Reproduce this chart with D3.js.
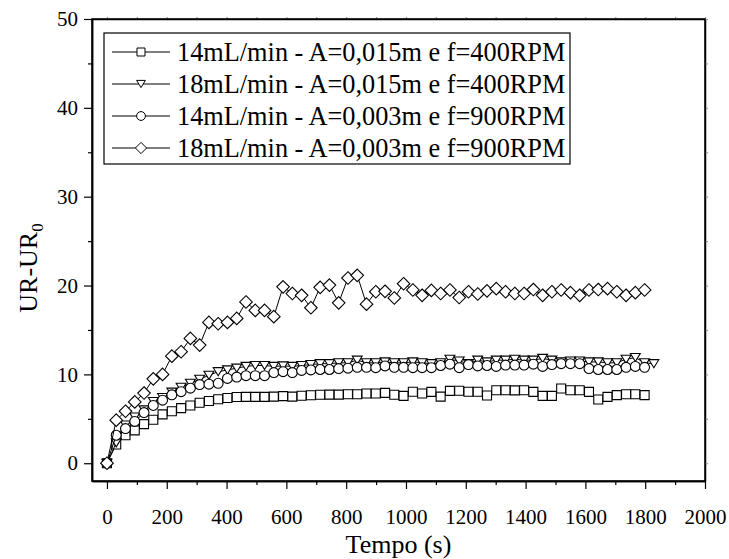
<!DOCTYPE html>
<html>
<head>
<meta charset="utf-8">
<script src="https://cdnjs.cloudflare.com/ajax/libs/d3/7.8.5/d3.min.js"></script>
<style>
  body { margin: 0; background: #fff; }
  svg text { font-family: "Liberation Serif", "Times New Roman", serif; fill: #000; }
</style>
</head>
<body>
<svg id="chart" width="729" height="559"></svg>
<script>
// time (s)
var times = [0,31,62,93,124,155,186,217,248,279,310,341,372,403,434,465,496,527,558,589,
  620,651,682,713,744,775,806,837,868,899,930,961,992,1023,1054,1085,1116,1147,1178,1209,
  1240,1271,1302,1333,1364,1395,1426,1457,1488,1519,1550,1581,1612,1643,1674,1705,1736,1767,1798,1829];

// 14mL/min - A=0,015m e f=400RPM
var sqVals = [0,2.1,3.15,3.7,4.4,4.9,5.5,5.85,6.2,6.5,6.8,7.0,7.2,7.35,7.45,7.47,7.47,7.47,7.5,7.55,
  7.5,7.6,7.65,7.7,7.72,7.72,7.77,7.77,7.85,7.85,7.92,7.7,7.58,8.05,7.85,8.03,7.5,8.14,8.15,8.05,
  8.05,7.62,8.22,8.22,8.2,8.22,8.03,7.58,7.58,8.41,8.22,8.22,8.03,7.17,7.47,7.66,7.77,7.77,7.66];

// 18mL/min - A=0,015m e f=400RPM
var triVals = [0,2.3,4.3,5.2,6.0,6.95,7.4,8.0,8.55,9.0,9.45,9.9,10.3,10.5,10.7,10.9,11.0,11.0,10.9,10.95,
  10.9,11.0,11.1,11.2,11.2,11.3,11.3,11.6,11.3,11.3,11.4,11.3,11.3,11.4,11.3,11.2,11.3,11.7,11.5,11.2,
  11.6,11.4,11.6,11.6,11.7,11.6,11.6,11.8,11.6,11.4,11.5,11.5,11.4,11.4,11.3,11.3,11.7,11.9,11.3,11.2];

// 14mL/min - A=0,003m e f=900RPM
var circVals = [0,3.15,3.9,4.7,5.7,6.5,7.1,7.7,8.05,8.45,8.85,8.9,9.0,9.55,9.7,9.85,9.85,9.85,10.2,10.3,
  10.2,10.45,10.5,10.55,10.55,10.65,10.7,10.8,10.8,10.75,10.95,10.8,10.8,10.75,10.75,10.75,11.0,11.15,10.75,11.1,
  10.95,11.0,10.9,11.05,11.05,11.05,11.15,10.9,11.1,11.2,11.2,11.2,10.65,10.55,10.55,10.55,10.8,10.9,10.8];

// 18mL/min - A=0,003m e f=900RPM
var diaVals = [0,4.85,5.85,6.9,7.9,9.5,10.0,12.05,12.55,14.05,13.3,15.85,15.7,15.85,16.3,18.15,17.2,17.2,16.5,19.85,
  19.1,18.9,17.5,19.8,20.05,18.05,20.85,21.15,17.9,19.3,19.35,18.6,20.2,19.5,18.9,19.45,19.1,19.5,18.65,19.3,
  19.05,19.4,19.65,19.3,19.1,19.1,19.55,18.9,19.3,19.5,19.2,18.9,19.5,19.55,19.65,19.3,18.9,19.2,19.5];

var seriesNames = ["14mL/min - A=0,015m e f=400RPM", "18mL/min - A=0,015m e f=400RPM",
                   "14mL/min - A=0,003m e f=900RPM", "18mL/min - A=0,003m e f=900RPM"];
var shapes = ["square", "triangle", "circle", "diamond"];
var xMajor = [0,200,400,600,800,1000,1200,1400,1600,1800,2000];
var xMinor = [100,300,500,700,900,1100,1300,1500,1700,1900];
var yMajor = [0,10,20,30,40,50];
var yMinor = [5,15,25,35,45];

(function(){

var series = [sqVals, triVals, circVals, diaVals].map(function(vals, k){
  return { name: seriesNames[k], shape: shapes[k],
           pts: vals.map(function(v, i){ return [times[i], v]; }) };
});

var svg = d3.select('#chart');
var pl = 92, pr = 705, pt = 19, pb = 481;

var x = d3.scaleLinear().domain([-50, 2000]).range([pl, pr]);
var y = d3.scaleLinear().domain([-2, 50]).range([pb, pt]);

// marker paths
function markerPath(shape, s){
  if (shape === 'square') return 'M' + (-s/2) + ',' + (-s/2) + 'h' + s + 'v' + s + 'h' + (-s) + 'Z';
  if (shape === 'triangle') return 'M' + (-s*0.55) + ',' + (-s*0.45) + 'L' + (s*0.55) + ',' + (-s*0.45) + 'L0,' + (s*0.45) + 'Z';
  if (shape === 'diamond') return 'M0,' + (-s*0.7) + 'L' + (s*0.7) + ',0L0,' + (s*0.7) + 'L' + (-s*0.7) + ',0Z';
  return null;
}
var mSize = 9;

function drawMarker(g, shape, s){
  if (shape === 'circle') {
    g.append('circle').attr('r', s*0.55);
  } else {
    g.append('path').attr('d', markerPath(shape, s));
  }
}

// axes
svg.append('g').attr('transform', 'translate(0,' + pb + ')')
  .call(d3.axisBottom(x).tickValues(xMajor).tickFormat(d3.format('d')).tickSize(8).tickPadding(20).tickSizeOuter(0));
svg.append('g').attr('transform', 'translate(0,' + pb + ')')
  .call(d3.axisBottom(x).tickValues(xMinor).tickSize(4).tickFormat('').tickSizeOuter(0));
svg.append('g').attr('transform', 'translate(' + pl + ',0)')
  .call(d3.axisLeft(y).tickValues(yMajor).tickFormat(d3.format('d')).tickSize(8).tickPadding(6).tickSizeOuter(0));
svg.append('g').attr('transform', 'translate(' + pl + ',0)')
  .call(d3.axisLeft(y).tickValues(yMinor).tickSize(4).tickFormat('').tickSizeOuter(0));
// top & right
svg.append('g').attr('transform', 'translate(0,' + pt + ')')
  .call(d3.axisTop(x).tickValues(xMajor.concat(xMinor)).tickSize(2).tickFormat('').tickSizeOuter(0))
  .selectAll('line').attr('stroke', '#999');
svg.append('g').attr('transform', 'translate(' + pr + ',0)')
  .call(d3.axisRight(y).tickValues(yMajor.concat(yMinor)).tickSize(3).tickFormat('').tickSizeOuter(0))
  .selectAll('line').attr('stroke', '#999');

svg.selectAll('.domain').attr('stroke', '#000').attr('stroke-width', 1.5);
svg.selectAll('.tick line').attr('stroke-width', 1.2);
svg.selectAll('.tick text').attr('font-size', 21).attr('font-family', '"Liberation Serif", serif');

svg.append('rect').attr('x', pl).attr('y', pt).attr('width', pr - pl).attr('height', pb - pt)
  .attr('fill', 'none').attr('stroke', '#000').attr('stroke-width', 1.5);

// axis titles
svg.append('text').attr('x', (pl + pr) / 2).attr('y', 553).attr('text-anchor', 'middle')
  .attr('font-size', 26).text('Tempo (s)');
var yt = svg.append('text').attr('transform', 'translate(37,' + ((pt + pb) / 2 + 18) + ') rotate(-90)')
  .attr('text-anchor', 'middle').attr('font-size', 26);
yt.append('tspan').text('UR-UR');
yt.append('tspan').attr('font-size', 17).attr('dy', 6).text('0');

// data
var line = d3.line().x(function(d){ return x(d[0]); }).y(function(d){ return y(d[1]); });
series.forEach(function(s){
  var g = svg.append('g');
  g.append('path').attr('d', line(s.pts)).attr('fill', 'none').attr('stroke', '#000').attr('stroke-width', 1);
  var mks = g.selectAll('g.mk').data(s.pts).enter().append('g').attr('class', 'mk')
    .attr('transform', function(d){ return 'translate(' + x(d[0]) + ',' + y(d[1]) + ')'; });
  mks.each(function(){ drawMarker(d3.select(this), s.shape, mSize); });
  mks.selectAll('*').attr('fill', '#fff').attr('stroke', '#000').attr('stroke-width', 1.1);
});

// legend
var lg = svg.append('g');
lg.append('rect').attr('x', 104).attr('y', 33).attr('width', 466).attr('height', 131)
  .attr('fill', '#fff').attr('stroke', '#000').attr('stroke-width', 1.2);
series.forEach(function(s, k){
  var cy = 52 + k * 32;
  lg.append('line').attr('x1', 112).attr('x2', 170).attr('y1', cy).attr('y2', cy)
    .attr('stroke', '#000').attr('stroke-width', 1);
  var mk = lg.append('g').attr('transform', 'translate(141,' + cy + ')');
  drawMarker(mk, s.shape, 8);
  mk.selectAll('*').attr('fill', '#fff').attr('stroke', '#000').attr('stroke-width', 1);
  lg.append('text').attr('x', 177).attr('y', cy + 9).attr('font-size', 26.3).text(s.name);
});

})();
</script>
</body>
</html>
